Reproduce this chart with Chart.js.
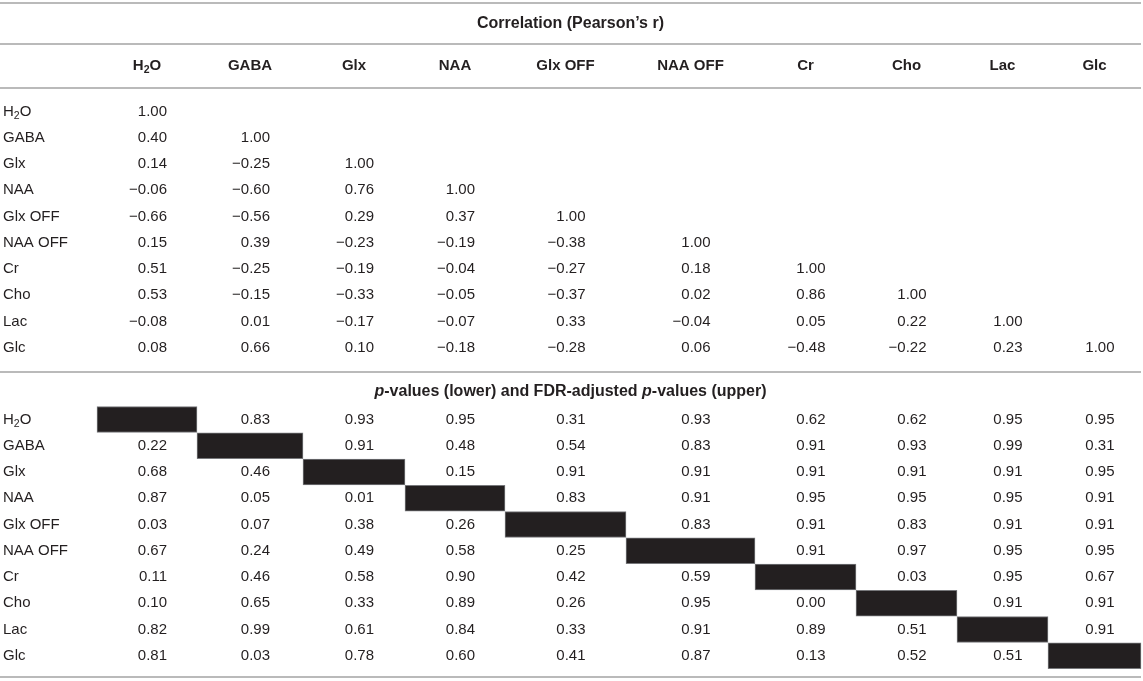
<!DOCTYPE html>
<html><head><meta charset="utf-8">
<script src="https://cdn.jsdelivr.net/npm/chart.js@4.4.1/dist/chart.umd.min.js"></script>
<style>html,body{margin:0;padding:0;background:#fff;overflow:hidden}#wrap{width:1143px;height:681px;position:relative}</style>
</head><body><div id="wrap"><canvas id="c"></canvas></div>
<script>
// ---------- data ----------
const metabolites = ['H2O','GABA','Glx','NAA','Glx OFF','NAA OFF','Cr','Cho','Lac','Glc'];
const corrTitle = 'Correlation (Pearson\u2019s r)';
const pTitleParts = [['p',true],['-values (lower) and FDR-adjusted ',false],['p',true],['-values (upper)',false]];
// lower triangle of Pearson's r (row i, columns 0..i)
const correlation = [
  [1.00],
  [0.40, 1.00],
  [0.14, -0.25, 1.00],
  [-0.06, -0.60, 0.76, 1.00],
  [-0.66, -0.56, 0.29, 0.37, 1.00],
  [0.15, 0.39, -0.23, -0.19, -0.38, 1.00],
  [0.51, -0.25, -0.19, -0.04, -0.27, 0.18, 1.00],
  [0.53, -0.15, -0.33, -0.05, -0.37, 0.02, 0.86, 1.00],
  [-0.08, 0.01, -0.17, -0.07, 0.33, -0.04, 0.05, 0.22, 1.00],
  [0.08, 0.66, 0.10, -0.18, -0.28, 0.06, -0.48, -0.22, 0.23, 1.00]
];
// p-values (lower) and FDR-adjusted p-values (upper); diagonal = null
const pValues = [
  [null, 0.83, 0.93, 0.95, 0.31, 0.93, 0.62, 0.62, 0.95, 0.95],
  [0.22, null, 0.91, 0.48, 0.54, 0.83, 0.91, 0.93, 0.99, 0.31],
  [0.68, 0.46, null, 0.15, 0.91, 0.91, 0.91, 0.91, 0.91, 0.95],
  [0.87, 0.05, 0.01, null, 0.83, 0.91, 0.95, 0.95, 0.95, 0.91],
  [0.03, 0.07, 0.38, 0.26, null, 0.83, 0.91, 0.83, 0.91, 0.91],
  [0.67, 0.24, 0.49, 0.58, 0.25, null, 0.91, 0.97, 0.95, 0.95],
  [0.11, 0.46, 0.58, 0.90, 0.42, 0.59, null, 0.03, 0.95, 0.67],
  [0.10, 0.65, 0.33, 0.89, 0.26, 0.95, 0.00, null, 0.91, 0.91],
  [0.82, 0.99, 0.61, 0.84, 0.33, 0.91, 0.89, 0.51, null, 0.91],
  [0.81, 0.03, 0.78, 0.60, 0.41, 0.87, 0.13, 0.52, 0.51, null]
];

// ---------- layout (table units) ----------
const colEdges = [97,197,303,405,505,626,755,856,957,1048,1141];
const ruleYs = [3,44,88,372,677];
const corrTitleY = 24, headerY = 66, corrRow0 = 111.5, pTitleY = 392, pRow0 = 419.5, rowStep = 26.25;
const FONT = '"Liberation Sans", Arial, Helvetica, sans-serif';
const TEXT = '#231f20';

const colCenter = j => (colEdges[j] + colEdges[j+1]) / 2;
const corrRowY = i => corrRow0 + rowStep * i;
const pRowY = i => pRow0 + rowStep * i;
const fmt = v => (v < 0 ? '\u2212' + Math.abs(v).toFixed(2) : v.toFixed(2));

const diagCells = metabolites.map((m, i) => ({ x: [colEdges[i], colEdges[i+1]], y: pRowY(i) }));

function segs(name) {
  const out = [];
  for (let k = 0; k < name.length; k++) {
    const ch = name[k];
    const sub = /[0-9]/.test(ch) && k > 0 && /[A-Za-z]/.test(name[k-1]);
    if (out.length && out[out.length-1].sub === sub) out[out.length-1].t += ch;
    else out.push({ t: ch, sub });
  }
  return out;
}
function drawName(ctx, name, x, y, align, bold, size) {
  const parts = segs(name);
  const f = s => (bold ? 'bold ' : '') + s + 'px ' + FONT;
  let w = 0;
  parts.forEach(p => { ctx.font = f(p.sub ? size * 0.7 : size); p.w = ctx.measureText(p.t).width; w += p.w; });
  let cx = align === 'center' ? x - w / 2 : (align === 'right' ? x - w : x);
  ctx.textAlign = 'left';
  parts.forEach(p => {
    ctx.font = f(p.sub ? size * 0.7 : size);
    ctx.fillText(p.t, cx, p.sub ? y + size * 0.28 : y);
    cx += p.w;
  });
}

const tablePlugin = {
  id: 'tablePlugin',
  beforeDatasetsDraw(chart) {
    const { ctx, scales: { x, y } } = chart;
    ctx.save();
    ctx.strokeStyle = '#a3a3a3';
    ctx.lineWidth = 1.6;
    ruleYs.forEach(r => {
      const py = y.getPixelForValue(r);
      ctx.beginPath();
      ctx.moveTo(x.getPixelForValue(0), py);
      ctx.lineTo(x.getPixelForValue(colEdges[colEdges.length-1]), py);
      ctx.stroke();
    });
    ctx.restore();
  },
  afterDatasetsDraw(chart) {
    const { ctx, scales: { x, y } } = chart;
    ctx.save();
    ctx.fillStyle = TEXT;
    ctx.textBaseline = 'middle';
    const midX = x.getPixelForValue(colEdges[colEdges.length-1] / 2);
    ctx.font = 'bold 16px ' + FONT;
    ctx.textAlign = 'center';
    ctx.fillText(corrTitle, midX, y.getPixelForValue(corrTitleY));
    metabolites.forEach((m, j) => drawName(ctx, m, x.getPixelForValue(colCenter(j)), y.getPixelForValue(headerY), 'center', true, 15));
    metabolites.forEach((m, i) => {
      const py = y.getPixelForValue(corrRowY(i));
      drawName(ctx, m, x.getPixelForValue(3), py, 'left', false, 15);
      ctx.font = '15px ' + FONT; ctx.textAlign = 'right';
      correlation[i].forEach((v, j) => ctx.fillText(fmt(v), x.getPixelForValue(colCenter(j) + 20), py));
    });
    let tw = 0;
    pTitleParts.forEach(p => { ctx.font = (p[1] ? 'italic bold ' : 'bold ') + '16px ' + FONT; tw += ctx.measureText(p[0]).width; });
    let tx = midX - tw / 2;
    ctx.textAlign = 'left';
    pTitleParts.forEach(p => { ctx.font = (p[1] ? 'italic bold ' : 'bold ') + '16px ' + FONT; ctx.fillText(p[0], tx, y.getPixelForValue(pTitleY)); tx += ctx.measureText(p[0]).width; });
    metabolites.forEach((m, i) => {
      const py = y.getPixelForValue(pRowY(i));
      drawName(ctx, m, x.getPixelForValue(3), py, 'left', false, 15);
      ctx.font = '15px ' + FONT; ctx.textAlign = 'right';
      pValues[i].forEach((v, j) => { if (v !== null) ctx.fillText(fmt(v), x.getPixelForValue(colCenter(j) + 20), py); });
    });
    ctx.restore();
  }
};

new Chart(document.getElementById('c'), {
  type: 'bar',
  data: { datasets: [{
    data: diagCells,
    backgroundColor: '#231f20',
    borderColor: '#77787b',
    borderWidth: 1,
    borderSkipped: false,
    barThickness: 26
  }] },
  options: {
    indexAxis: 'y',
    responsive: true,
    maintainAspectRatio: false,
    animation: false,
    layout: { padding: 0 },
    plugins: { legend: { display: false }, tooltip: { enabled: false } },
    scales: {
      x: { type: 'linear', min: 0, max: 1143, display: false, offset: false, grace: 0 },
      y: { type: 'linear', min: 0, max: 681, reverse: true, display: false, offset: false, grace: 0 }
    }
  },
  plugins: [tablePlugin]
});
</script></body></html>
